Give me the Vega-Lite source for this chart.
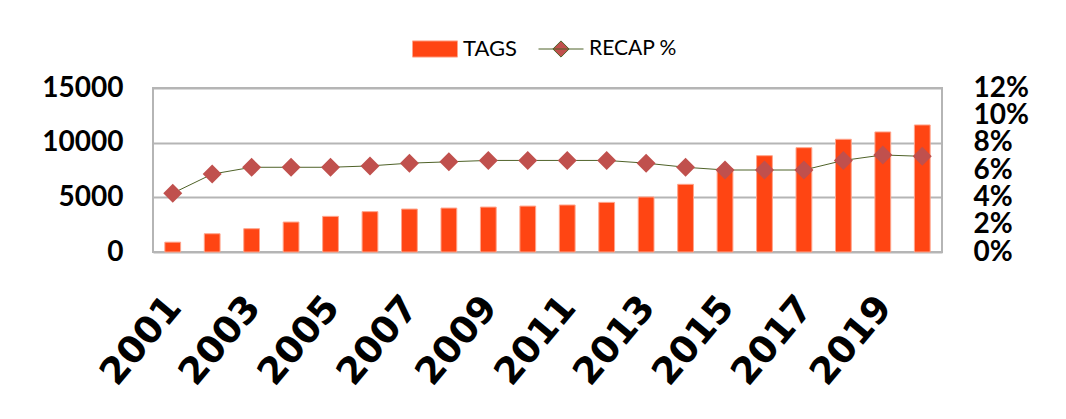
{
  "$schema": "https://vega.github.io/schema/vega-lite/v6.json",
  "width": 789,
  "height": 164,
  "autosize": {"type": "none"},
  "padding": {"left": 153, "top": 88, "right": 124, "bottom": 167},
  "background": "white",
  "config": {
    "view": {"stroke": "#B5B5B5", "strokeWidth": 2},
    "axis": {"domain": false, "ticks": false, "labelColor": "black"}
  },
  "data": {
    "values": [
      {"year": 2001, "tags": 900, "recap": 0.043},
      {"year": 2002, "tags": 1670, "recap": 0.057},
      {"year": 2003, "tags": 2130, "recap": 0.062},
      {"year": 2004, "tags": 2740, "recap": 0.062},
      {"year": 2005, "tags": 3260, "recap": 0.062},
      {"year": 2006, "tags": 3690, "recap": 0.063},
      {"year": 2007, "tags": 3930, "recap": 0.065},
      {"year": 2008, "tags": 4020, "recap": 0.066},
      {"year": 2009, "tags": 4110, "recap": 0.067},
      {"year": 2010, "tags": 4200, "recap": 0.067},
      {"year": 2011, "tags": 4300, "recap": 0.067},
      {"year": 2012, "tags": 4540, "recap": 0.067},
      {"year": 2013, "tags": 5030, "recap": 0.065},
      {"year": 2014, "tags": 6190, "recap": 0.062},
      {"year": 2015, "tags": 7620, "recap": 0.060},
      {"year": 2016, "tags": 8810, "recap": 0.060},
      {"year": 2017, "tags": 9540, "recap": 0.060},
      {"year": 2018, "tags": 10310, "recap": 0.067},
      {"year": 2019, "tags": 10980, "recap": 0.071},
      {"year": 2020, "tags": 11620, "recap": 0.070}
    ]
  },
  "encoding": {
    "x": {
      "field": "year",
      "type": "ordinal",
      "scale": {"paddingInner": 0.6, "paddingOuter": 0.3},
      "axis": {
        "title": null,
        "values": [2001, 2003, 2005, 2007, 2009, 2011, 2013, 2015, 2017, 2019],
        "labelAngle": -50,
        "labelFont": "DejaVu Sans",
        "labelFontWeight": "bold",
        "labelFontSize": 37,
        "labelPadding": 49,
        "labelOffset": 2,
        "grid": false
      }
    }
  },
  "layer": [
    {
      "mark": {"type": "bar", "fill": "#FF4513", "stroke": "#FFA58C", "strokeWidth": 1},
      "encoding": {
        "y": {
          "field": "tags",
          "type": "quantitative",
          "scale": {"domain": [0, 15000], "nice": false},
          "axis": {
            "title": null,
            "values": [0, 5000, 10000, 15000],
            "format": "d",
            "orient": "left",
            "labelFont": "Lato",
            "labelFontWeight": "bold",
            "labelFontSize": 28,
            "labelPadding": 30,
            "labelOverlap": false,
            "labelFlush": false,
            "grid": true,
            "gridColor": "#B5B5B5",
            "gridWidth": 2
          }
        },
        "color": {
          "datum": "TAGS",
          "scale": {"domain": ["TAGS"], "range": ["#FF4513"]},
          "legend": {
            "title": null,
            "orient": "none",
            "direction": "horizontal",
            "legendX": 259,
            "legendY": -62,
            "padding": 0,
            "symbolType": "M-1,-0.36H1V0.36H-1Z",
            "symbolSize": 2025,
            "symbolStrokeColor": "#FFA58C",
            "symbolStrokeWidth": 1,
            "symbolOpacity": 1,
            "labelOffset": 5,
            "labelFont": "Lato",
            "labelFontSize": 22,
            "labelColor": "black"
          }
        }
      }
    },
    {
      "layer": [
        {
          "mark": {"type": "line", "strokeWidth": 1},
          "encoding": {
            "y": {
              "field": "recap",
              "type": "quantitative",
              "scale": {"domain": [0, 0.12], "nice": false},
              "axis": {
                "title": null,
                "orient": "right",
                "values": [0, 0.02, 0.04, 0.06, 0.08, 0.1, 0.12],
                "format": ".0%",
                "labelFont": "Lato",
                "labelFontWeight": "bold",
                "labelFontSize": 28,
                "labelPadding": 31,
                "labelOverlap": false,
                "labelFlush": false,
                "grid": false
              }
            },
            "stroke": {
              "datum": "RECAP %",
              "scale": {"domain": ["RECAP %"], "range": ["#4F6228"]},
              "legend": {
                "title": null,
                "orient": "none",
                "direction": "horizontal",
                "legendX": 385,
                "legendY": -62,
                "padding": 0,
                "symbolType": "M-1,0H1M0,-0.36L0.36,0L0,0.36L-0.36,0Z",
                "symbolSize": 2025,
                "symbolFillColor": "#C0504D",
                "symbolStrokeWidth": 1,
                "symbolOpacity": 1,
                "labelOffset": 5,
                "labelFont": "Lato",
                "labelFontSize": 21,
                "labelColor": "black"
              }
            }
          }
        },
        {
          "mark": {"type": "point", "shape": "diamond", "filled": true, "size": 361, "opacity": 1, "color": "#C0504D"},
          "encoding": {
            "y": {
              "field": "recap",
              "type": "quantitative",
              "scale": {"domain": [0, 0.12], "nice": false},
              "axis": {
                "title": null,
                "orient": "right",
                "values": [0, 0.02, 0.04, 0.06, 0.08, 0.1, 0.12],
                "format": ".0%",
                "labelFont": "Lato",
                "labelFontWeight": "bold",
                "labelFontSize": 28,
                "labelPadding": 31,
                "labelOverlap": false,
                "labelFlush": false,
                "grid": false
              }
            }
          }
        }
      ]
    }
  ],
  "resolve": {"scale": {"y": "independent"}}
}
